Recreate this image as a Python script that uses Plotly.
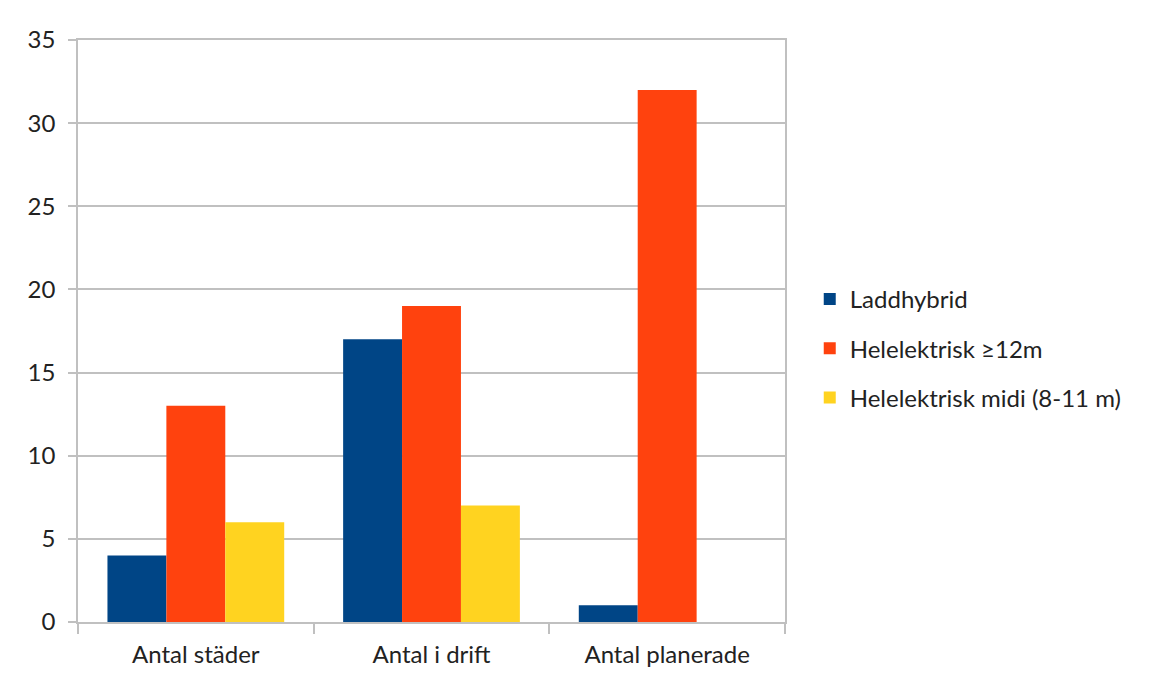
import plotly.graph_objects as go

categories = ["Antal städer", "Antal i drift", "Antal planerade"]
series_names = ["Laddhybrid", "Helelektrisk ≥12m", "Helelektrisk midi (8-11 m)"]
laddhybrid = [4, 17, 1]
helelektrisk_12m = [13, 19, 32]
helelektrisk_midi = [6, 7, None]
colors = ["#004586", "#ff420e", "#ffd320"]
y_ticks = [0, 5, 10, 15, 20, 25, 30, 35]

FONT = "Lato"
FS = 24
TXT = "#222222"
fig = go.Figure()
for i, (name, vals) in enumerate(zip(series_names, [laddhybrid, helelektrisk_12m, helelektrisk_midi])):
    fig.add_trace(go.Bar(
        x=categories, y=vals, name=name,
        marker=dict(color=colors[i], line=dict(width=0)),
        legendgroup=f"g{i}",
    ))

grid = "#c0c0c0"
fig.update_layout(
    width=1145, height=665,
    margin=dict(l=70, r=368, t=32, b=51),
    paper_bgcolor="white", plot_bgcolor="white",
    barmode="group", bargap=0.25, bargroupgap=0,
    font=dict(family=FONT, size=FS, color=TXT),
    showlegend=True,
    legend=dict(
        x=1.035, y=0.47, xanchor="left", yanchor="middle",
        traceorder="grouped", tracegroupgap=15,
        font=dict(family=FONT, size=FS, color=TXT),
        itemwidth=30,
    ),
    xaxis=dict(
        showline=True, linecolor=grid, linewidth=1.5, mirror=True,
        ticks="outside", tickson="boundaries", ticklen=10, tickcolor=grid, tickwidth=1.5,
        showgrid=False, tickfont=dict(family=FONT, size=FS, color=TXT),
        ticklabelstandoff=10, automargin=False,
    ),
    yaxis=dict(
        range=[0, 35], tickvals=y_ticks,
        showline=True, linecolor=grid, linewidth=1.5, mirror=True,
        showgrid=True, gridcolor=grid, gridwidth=1.5,
        ticks="outside", ticklen=8, tickcolor=grid, tickwidth=1.5,
        zeroline=False, tickfont=dict(family=FONT, size=FS, color=TXT),
        ticklabelstandoff=8, automargin=False,
    ),
)
fig.write_html("out.html")
